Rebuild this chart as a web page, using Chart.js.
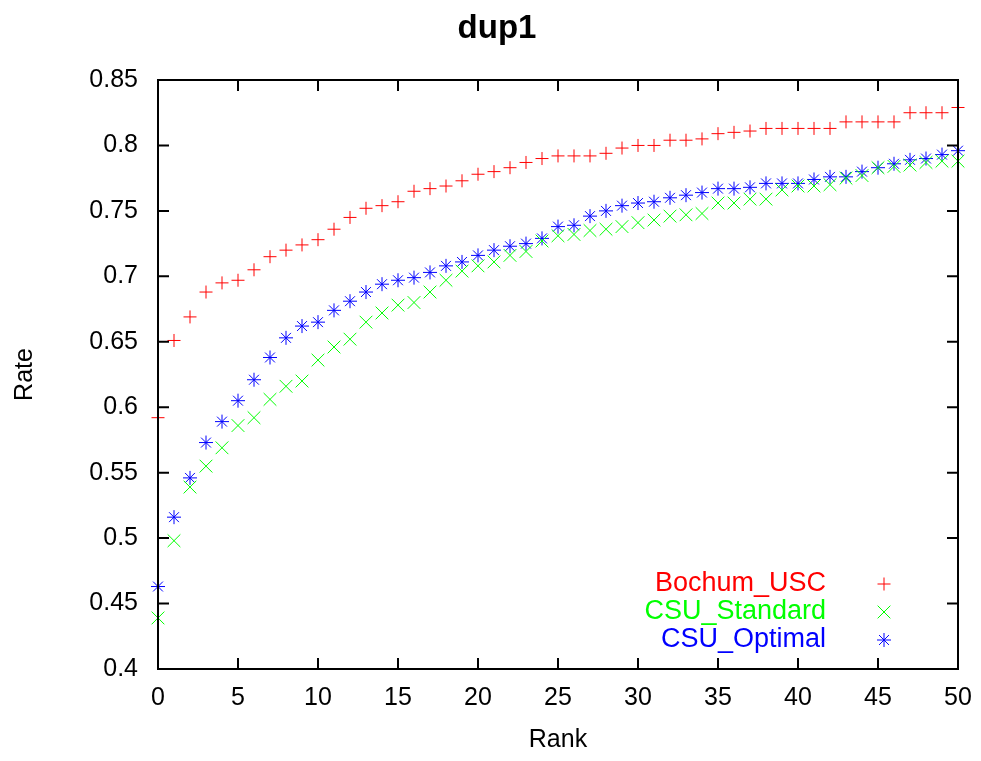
<!DOCTYPE html>
<html lang="en">
<head>
    <meta charset="UTF-8">
    <title>dup1</title>
    <script src="https://cdn.jsdelivr.net/npm/chart.js"></script>
    <style>
        html, body { margin: 0; padding: 0; background: #fff; }
        #wrap { width: 981px; height: 761px; }
    </style>
</head>
<body>
    <div id="wrap"><canvas id="rankChart" width="981" height="761"></canvas></div>

    <script>
    // Rank 0..50
    const ranks = Array.from({ length: 51 }, (_, i) => i);

    const bochumUSC = [0.592, 0.651, 0.669, 0.688, 0.695, 0.697, 0.705, 0.715, 0.720, 0.724,
        0.728, 0.736, 0.745, 0.752, 0.754, 0.757, 0.765, 0.767, 0.769, 0.773,
        0.778, 0.780, 0.783, 0.787, 0.790, 0.792, 0.792, 0.792, 0.794, 0.798,
        0.800, 0.800, 0.804, 0.804, 0.805, 0.809, 0.810, 0.811, 0.813, 0.813,
        0.813, 0.813, 0.813, 0.818, 0.818, 0.818, 0.818, 0.825, 0.825, 0.825, 0.829];

    const csuStandard = [0.439, 0.498, 0.539, 0.555, 0.569, 0.586, 0.592, 0.606, 0.616, 0.620,
        0.636, 0.646, 0.652, 0.665, 0.672, 0.678, 0.680, 0.688, 0.697, 0.704,
        0.708, 0.711, 0.716, 0.719, 0.727, 0.731, 0.732, 0.735, 0.736, 0.738,
        0.741, 0.743, 0.746, 0.747, 0.748, 0.756, 0.756, 0.759, 0.759, 0.766,
        0.769, 0.769, 0.770, 0.775, 0.777, 0.783, 0.784, 0.785, 0.787, 0.788, 0.788];

    const csuOptimal = [0.463, 0.516, 0.546, 0.573, 0.589, 0.605, 0.621, 0.638, 0.653, 0.662,
        0.665, 0.674, 0.681, 0.688, 0.694, 0.697, 0.699, 0.703, 0.708, 0.711,
        0.716, 0.720, 0.723, 0.725, 0.729, 0.738, 0.739, 0.746, 0.750, 0.754,
        0.756, 0.757, 0.760, 0.762, 0.764, 0.767, 0.767, 0.768, 0.771, 0.771,
        0.771, 0.774, 0.776, 0.776, 0.780, 0.783, 0.786, 0.789, 0.790, 0.793, 0.796];

    const xTicks = [0, 5, 10, 15, 20, 25, 30, 35, 40, 45, 50];
    const yTicks = [0.4, 0.45, 0.5, 0.55, 0.6, 0.65, 0.7, 0.75, 0.8, 0.85];

    const FONT = 'Liberation Sans, Arial, sans-serif';

    function toPoints(values) {
        return ranks.map((r, i) => ({ x: r, y: values[i] }));
    }

    const series = [
        { label: 'Bochum_USC', data: bochumUSC, color: '#ff0000', style: 'cross', radius: 6.5 },
        { label: 'CSU_Standard', data: csuStandard, color: '#00ff00', style: 'crossRot', radius: 9 },
        { label: 'CSU_Optimal', data: csuOptimal, color: '#0000ff', style: 'star', radius: 7 }
    ];

    // title drawn centred on the page like gnuplot does
    const pageTitle = {
        id: 'pageTitle',
        afterDraw(chart) {
            const { ctx } = chart;
            ctx.save();
            ctx.fillStyle = '#000';
            ctx.font = 'bold 33px ' + FONT;
            ctx.textAlign = 'center';
            ctx.textBaseline = 'middle';
            ctx.fillText('dup1', 497, 29);
            ctx.restore();
        }
    };

    // frame + inward ticks on all four sides
    const frameTicks = {
        id: 'frameTicks',
        afterDatasetsDraw(chart) {
            const { ctx, chartArea: a, scales } = chart;
            const len = 11;
            ctx.save();
            ctx.strokeStyle = '#000';
            ctx.lineWidth = 2;
            ctx.beginPath();
            xTicks.forEach(v => {
                const px = scales.x.getPixelForValue(v);
                ctx.moveTo(px, a.bottom); ctx.lineTo(px, a.bottom - len);
                ctx.moveTo(px, a.top); ctx.lineTo(px, a.top + len);
            });
            yTicks.forEach(v => {
                const py = scales.y.getPixelForValue(v);
                ctx.moveTo(a.left, py); ctx.lineTo(a.left + len, py);
                ctx.moveTo(a.right, py); ctx.lineTo(a.right - len, py);
            });
            ctx.stroke();
            ctx.strokeRect(a.left, a.top, a.right - a.left, a.bottom - a.top);
            ctx.restore();
        }
    };

    // legend inside the plot, text right aligned then the marker
    const insideLegend = {
        id: 'insideLegend',
        afterDraw(chart) {
            const { ctx } = chart;
            const textRight = 826;
            const markX = 884;
            const rows = [584, 612, 640];
            ctx.save();
            ctx.font = '27px ' + FONT;
            ctx.textAlign = 'right';
            ctx.textBaseline = 'middle';
            series.forEach((s, i) => {
                ctx.fillStyle = s.color;
                ctx.fillText(s.label, textRight, rows[i]);
                ctx.strokeStyle = s.color;
                ctx.lineWidth = 1;
                Chart.helpers.drawPoint(ctx, { pointStyle: s.style, radius: s.radius, rotation: 0, borderWidth: 1 }, markX, rows[i]);
            });
            ctx.restore();
        }
    };

    new Chart(document.getElementById('rankChart'), {
        type: 'scatter',
        data: {
            datasets: series.map(s => ({
                label: s.label,
                data: toPoints(s.data),
                pointStyle: s.style,
                pointRadius: s.radius,
                pointBorderWidth: 1,
                borderColor: s.color,
                backgroundColor: s.color,
                showLine: false,
                clip: false
            }))
        },
        options: {
            responsive: false,
            animation: false,
            layout: { padding: { top: 80, right: 23, left: 0, bottom: 0 } },
            plugins: {
                legend: { display: false },
                tooltip: { enabled: false },
                title: { display: false }
            },
            scales: {
                x: {
                    type: 'linear',
                    min: 0,
                    max: 50,
                    afterFit: s => { s.height = 92; },
                    afterBuildTicks: s => { s.ticks = xTicks.map(v => ({ value: v })); },
                    grid: { display: false },
                    border: { display: false },
                    ticks: {
                        color: '#000',
                        padding: 6,
                        maxRotation: 0,
                        font: { family: FONT, size: 25 },
                        callback: v => String(v)
                    },
                    title: {
                        display: true,
                        text: 'Rank',
                        color: '#000',
                        font: { family: FONT, size: 25 },
                        padding: { top: 4, bottom: 6 }
                    }
                },
                y: {
                    type: 'linear',
                    min: 0.4,
                    max: 0.85,
                    afterFit: s => { s.width = 158; },
                    afterBuildTicks: s => { s.ticks = yTicks.map(v => ({ value: v })); },
                    grid: { display: false },
                    border: { display: false },
                    ticks: {
                        color: '#000',
                        padding: 12,
                        font: { family: FONT, size: 25 },
                        callback: v => String(Math.round(v * 100) / 100)
                    },
                    title: {
                        display: true,
                        text: 'Rate',
                        color: '#000',
                        font: { family: FONT, size: 25 },
                        padding: { top: 10, bottom: 0 }
                    }
                }
            }
        },
        plugins: [frameTicks, insideLegend, pageTitle]
    });
    </script>
</body>
</html>
